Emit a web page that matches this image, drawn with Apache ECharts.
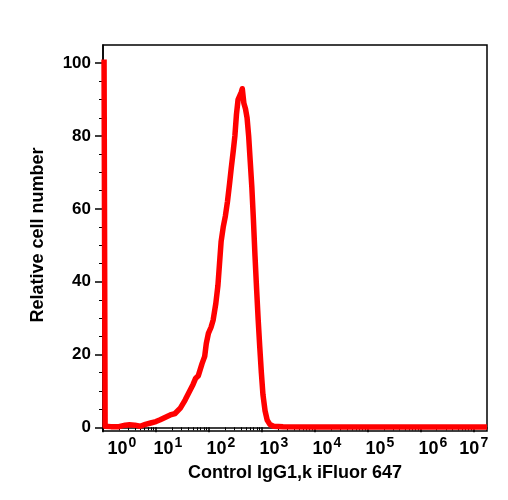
<!doctype html>
<html>
<head>
<meta charset="UTF-8">
<script src="https://cdn.jsdelivr.net/npm/echarts@6/dist/echarts.min.js"></script>
<style>
    body { margin: 0; background: #fff; }
    #main { width: 508px; height: 500px; }
</style>
</head>
<body>
<div id="main"></div>
<script>
    // x in decades (log10 of fluorescence), y = relative cell number
    var logX = [0.02, 0.04, 0.15, 0.3, 0.42, 0.5, 0.6, 0.7, 0.8, 0.9, 1.0, 1.08, 1.18, 1.27, 1.36, 1.46,
        1.55, 1.62, 1.7, 1.75, 1.8, 1.87, 1.92, 1.95, 1.99, 2.04, 2.08, 2.13, 2.17, 2.2, 2.23, 2.27,
        2.31, 2.35, 2.39, 2.42, 2.46, 2.49, 2.52, 2.55, 2.58, 2.61, 2.63, 2.66, 2.69, 2.72, 2.75, 2.78,
        2.81, 2.84, 2.87, 2.9, 2.93, 2.96, 2.99, 3.02, 3.06, 3.1, 3.15, 3.22, 3.4, 4, 5, 6, 7, 7.25];
    var counts = [101, 0.3, 0.2, 0.2, 0.6, 0.7, 0.6, 0.3, 0.8, 1.2, 1.6, 2.1, 2.8, 3.4, 3.8, 5.3,
        7.5, 9.5, 11.8, 13.5, 14.2, 17.5, 19.5, 23, 25.8, 27.5, 29.5, 34, 39, 45, 51, 55,
        58, 62, 67, 71, 76, 80, 86, 90, 90.5, 92, 93, 89, 87.5, 85, 80, 73,
        66, 57, 47, 38, 29.5, 22, 15, 9, 4.5, 2, 0.8, 0.3, 0.2, 0.1, 0.1, 0.1, 0.1, 0.1];

    var decades = [0, 1, 2, 3, 4, 5, 6, 7];
    var minorMult = [2, 3, 4, 5, 6, 7, 8, 9];
    var yMajor = [0, 20, 40, 60, 80, 100];
    var yMinor = [5, 10, 15, 25, 30, 35, 45, 50, 55, 65, 70, 75, 85, 90, 95];

    var xMin = 0, xMax = 7.25;
    var xMinor = [];
    decades.forEach(function (d) {
        minorMult.forEach(function (m) {
            var v = d + Math.log10(m);
            if (v < xMax) xMinor.push(v);
        });
    });

    var font = 'Liberation Sans';
    var points = logX.map(function (x, i) { return [x, counts[i]]; });

    var myChart = echarts.init(document.getElementById('main'));
    var option = {
        backgroundColor: '#fff',
        animation: false,
        grid: {
            left: 103, right: 21, top: 45, bottom: 69,
            show: true, borderColor: '#000', borderWidth: 1.5
        },
        xAxis: [{
            type: 'value', min: xMin, max: xMax,
            name: 'Control IgG1,k iFluor 647',
            nameLocation: 'middle', nameGap: 33,
            nameTextStyle: { fontFamily: font, fontWeight: 'bold', fontSize: 18, color: '#000' },
            axisLine: { lineStyle: { color: '#000', width: 1.5 } },
            axisTick: { customValues: decades, length: 5, lineStyle: { color: '#000', width: 1.5 } },
            splitLine: { show: false },
            axisLabel: {
                customValues: decades,
                margin: 5,
                formatter: function (v) {
                    var pad = v === 0 ? '{q| }' : (v === 7 ? '' : '{p| }');
                    return pad + '{b|10}{e|' + v + '}';
                },
                rich: {
                    p: { width: 24 },
                    q: { width: 38 },
                    b: { fontFamily: font, fontWeight: 'bold', fontSize: 18, color: '#000', verticalAlign: 'bottom' },
                    e: { fontFamily: font, fontWeight: 'bold', fontSize: 14, color: '#000', verticalAlign: 'bottom', padding: [0, 0, 8, 1] }
                }
            }
        }, {
            type: 'value', min: xMin, max: xMax, position: 'bottom',
            axisLine: { show: false },
            axisTick: { customValues: xMinor, length: 3, lineStyle: { color: '#000', width: 1 } },
            axisLabel: { show: false },
            splitLine: { show: false }
        }],
        yAxis: [{
            type: 'value', min: -1, max: 105,
            name: 'Relative cell number',
            nameLocation: 'middle', nameGap: 56,
            nameTextStyle: { fontFamily: font, fontWeight: 'bold', fontSize: 18, color: '#000', padding: [0, 0, 0, 6] },
            axisLine: { lineStyle: { color: '#000', width: 1.5 } },
            axisTick: { customValues: yMajor, length: 8, lineStyle: { color: '#000', width: 1.5 } },
            axisLabel: {
                customValues: yMajor, margin: 12,
                fontFamily: font, fontWeight: 'bold', fontSize: 17, color: '#000'
            },
            splitLine: { show: false }
        }, {
            type: 'value', min: -1, max: 105, position: 'left',
            axisLine: { show: false },
            axisTick: { customValues: yMinor, length: 4, lineStyle: { color: '#000', width: 1 } },
            axisLabel: { show: false },
            splitLine: { show: false }
        }],
        series: [{
            type: 'line',
            xAxisIndex: 0, yAxisIndex: 0,
            data: points,
            symbol: 'none',
            lineStyle: { color: '#ff0000', width: 5.5, join: 'round' }
        }]
    };
    myChart.setOption(option);
</script>
</body>
</html>
